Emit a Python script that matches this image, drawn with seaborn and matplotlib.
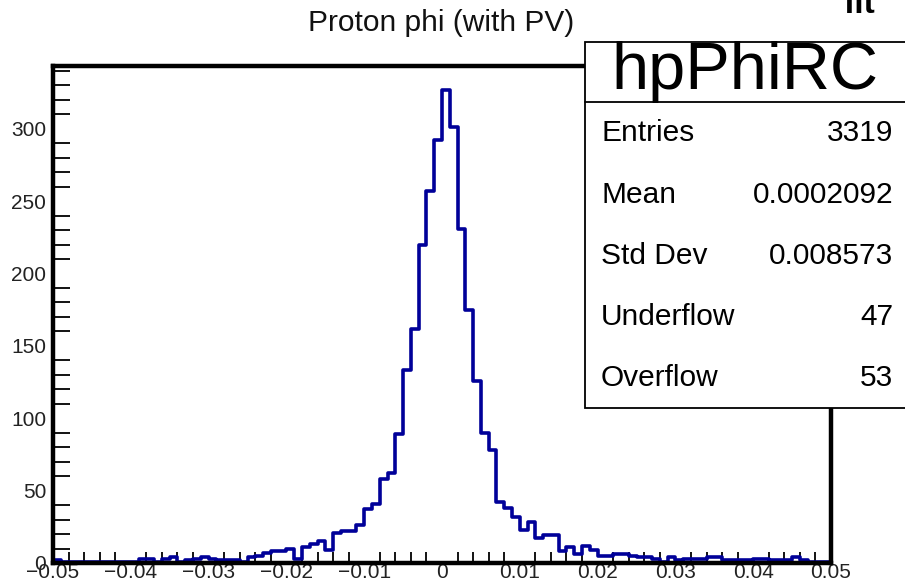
import numpy as np
import pandas as pd
import matplotlib
matplotlib.use("Agg")
import matplotlib.pyplot as plt
import seaborn as sns
from matplotlib.patches import Rectangle
from matplotlib.ticker import MultipleLocator

# ---- data ----
title = "Proton phi (with PV)"
x_min, x_max, n_bins = -0.05, 0.05, 100
counts = [
    2, 1, 1, 1, 1, 1, 1, 1, 1, 1,
    1, 3, 3, 1, 3, 4, 1, 2, 3, 4,
    3, 2, 2, 2, 1, 4, 5, 7, 8, 8,
    10, 3, 11, 13, 15, 9, 21, 22, 22, 26,
    37, 41, 58, 62, 89, 133, 162, 220, 257, 292,
    327, 301, 231, 175, 126, 90, 78, 42, 38, 32,
    23, 28, 17, 19, 19, 8, 11, 6, 12, 9,
    5, 5, 6, 6, 5, 4, 4, 3, 1, 4,
    2, 3, 3, 3, 4, 4, 2, 2, 2, 2,
    3, 3, 2, 2, 2, 4, 2, 1, 1, 1,
]
stats_name = "hpPhiRC"
stats_labels = ["Entries", "Mean", "Std Dev", "Underflow", "Overflow"]
stats_values = ["3319", "0.0002092", "0.008573", "47", "53"]
x_ticks = [-0.05, -0.04, -0.03, -0.02, -0.01, 0, 0.01, 0.02, 0.03, 0.04, 0.05]
x_ticklabels = ["\u22120.05", "\u22120.04", "\u22120.03", "\u22120.02", "\u22120.01", "0",
                "0.01", "0.02", "0.03", "0.04", "0.05"]
y_ticks = [0, 50, 100, 150, 200, 250, 300]

edges = np.linspace(x_min, x_max, n_bins + 1)
centers = 0.5 * (edges[:-1] + edges[1:])
df = pd.DataFrame({"phi": centers, "n": np.asarray(counts, dtype=float)})

# ---- figure ----
sns.set_theme(style="white")
plt.rcParams["font.family"] = ["Liberation Sans", "DejaVu Sans"]

W, H = 905, 585
fig = plt.figure(figsize=(W / 100, H / 100), dpi=100)
fig.patch.set_facecolor("white")

def fx(px):
    return px / W

def fy(py):
    return 1 - py / H

ax = fig.add_axes([fx(53), fy(563), fx(831) - fx(53), fy(66) - fy(563)])
sns.histplot(data=df, x="phi", weights="n", bins=n_bins, binrange=(x_min, x_max),
             element="step", fill=False, color="#000099", linewidth=2.6, ax=ax)

ax.set_xlim(x_min, x_max)
ax.set_ylim(0, max(counts) * 1.05)
ax.set_xlabel("")
ax.set_ylabel("")
ax.set_xticks(x_ticks)
ax.set_xticklabels(x_ticklabels)
ax.set_yticks(y_ticks)
ax.xaxis.set_minor_locator(MultipleLocator(0.002))
ax.yaxis.set_minor_locator(MultipleLocator(10))
ax.tick_params(axis="x", which="major", direction="in", length=15, width=1.3,
               color="black", labelsize=15, pad=0)
ax.tick_params(axis="x", which="minor", direction="in", length=8, width=1.3,
               color="black", bottom=True)
ax.tick_params(axis="y", which="major", direction="in", length=23, width=1.3,
               color="black", labelsize=15, pad=5)
ax.tick_params(axis="y", which="minor", direction="in", length=12, width=1.3,
               color="black", left=True)
for lab in ax.get_xticklabels() + ax.get_yticklabels():
    lab.set_color("#222222")
for sp in ax.spines.values():
    sp.set_visible(True)
    sp.set_color("black")
    sp.set_linewidth(3.2)

fig.text(fx(441), fy(23), title, ha="center", va="center", fontsize=21.5,
         color="#111111")

# stats box
box = Rectangle((fx(585), fy(408)), fx(330), fy(42) - fy(408),
                transform=fig.transFigure, facecolor="white",
                edgecolor="black", linewidth=1.3, zorder=10)
fig.add_artist(box)
fig.add_artist(plt.Line2D([fx(585), fx(910)], [fy(102), fy(102)],
                          transform=fig.transFigure, color="black",
                          linewidth=1.3, zorder=11))
fig.text(fx(745), fy(72), stats_name, ha="center", va="center",
         fontsize=48, color="black", zorder=12)
row_y = [133, 195, 256, 317, 378]
for lab, val, yy in zip(stats_labels, stats_values, row_y):
    fig.text(fx(601), fy(yy), lab, ha="left", va="center", fontsize=21.5,
             color="black", zorder=12)
    fig.text(fx(893), fy(yy), val, ha="right", va="center", fontsize=21.5,
             color="black", zorder=12)

# clipped fragment at top right
fig.text(fx(843), fy(13), "fit", ha="left", va="baseline", fontsize=24,
         fontweight="bold", color="black", zorder=12)

fig.savefig("out.png", dpi=100, facecolor="white")
